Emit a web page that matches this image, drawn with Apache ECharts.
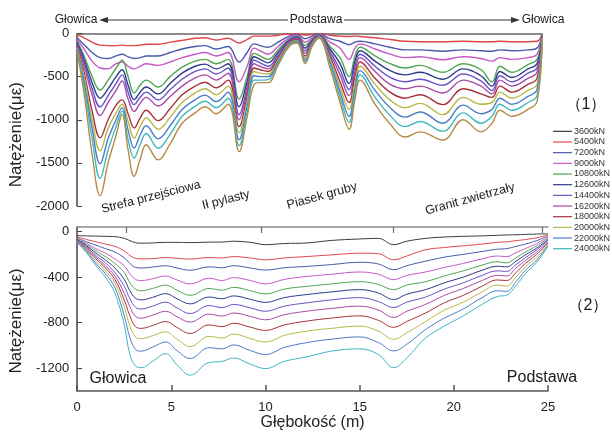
<!DOCTYPE html>
<html><head><meta charset="utf-8">
<script src="https://cdn.jsdelivr.net/npm/echarts@6/dist/echarts.min.js"></script>
<style>html,body{margin:0;padding:0;background:#fff}#c{width:612px;height:432px}</style>
</head><body><div id="c"></div>
<script>
// ---- categories ----
const loads = ['3600kN','5400kN','7200kN','9000kN','10800kN','12600kN','14400kN','16200kN','18000kN','20000kN','22000kN','24000kN'];

// ---- panel (1): position along the loop, head -> base (25) -> head (50) ----
const loopPos = [0,0.75,1.61,2.47,3.33,4.19,4.84,5.48,6.13,6.77,7.42,8.71,10.0,11.29,12.69,13.76,14.95,16.24,17.42,18.28,19.03,19.68,20.54,21.61,22.8,23.66,24.52,25.27,26.02,27.2,28.28,29.25,29.89,30.43,32.04,33.66,35.27,36.88,39.35,41.51,43.44,44.62,45.48,46.77,48.49,49.46,50];
const top3600 = [-15,-50,-100,-135,-140,-140,-135,-140,-140,-135,-125,-125,-100,-80,-55,-50,-75,-55,-110,-70,-30,-30,-30,-20,-5,0,-20,-10,0,-20,-30,-35,-30,-35,-50,-70,-90,-95,-95,-90,-95,-95,-90,-95,-95,-90,-5];
const top5400 = [-50,-130,-220,-280,-290,-260,-240,-270,-290,-280,-260,-260,-220,-180,-150,-140,-180,-150,-330,-220,-120,-140,-160,-100,-30,-10,-60,-30,-5,-60,-90,-130,-100,-90,-120,-160,-190,-190,-205,-190,-200,-205,-190,-200,-190,-170,-10];
const top7200 = [-70,-180,-320,-400,-410,-350,-330,-380,-410,-380,-350,-370,-330,-280,-240,-220,-260,-220,-560,-380,-170,-200,-240,-150,-50,-20,-100,-50,-10,-100,-170,-300,-170,-120,-180,-240,-280,-270,-305,-270,-290,-320,-280,-300,-280,-240,-15];
const top9000 = [-90,-260,-500,-655,-540,-400,-310,-500,-690,-600,-540,-620,-500,-390,-320,-300,-350,-300,-760,-500,-230,-260,-300,-190,-70,-30,-140,-70,-15,-150,-280,-500,-260,-160,-260,-350,-400,-370,-450,-350,-420,-560,-380,-450,-360,-300,-20];
const top10800 = [-105,-300,-570,-750,-640,-500,-420,-600,-767,-680,-620,-700,-580,-460,-380,-355,-410,-350,-850,-560,-270,-300,-340,-220,-80,-40,-170,-80,-20,-180,-350,-580,-320,-200,-320,-430,-480,-450,-530,-410,-490,-610,-440,-510,-410,-350,-25];
const top12600 = [-120,-340,-640,-850,-720,-580,-480,-680,-825,-740,-680,-770,-650,-530,-440,-410,-470,-400,-940,-620,-310,-340,-380,-250,-90,-50,-200,-90,-25,-210,-420,-650,-380,-240,-380,-510,-560,-530,-600,-470,-550,-660,-490,-560,-460,-400,-30];
const top14400 = [-135,-380,-710,-950,-800,-660,-550,-760,-903,-810,-740,-840,-730,-610,-515,-480,-540,-460,-1000,-670,-350,-380,-410,-270,-100,-60,-230,-100,-30,-240,-480,-720,-440,-280,-440,-590,-640,-610,-690,-540,-610,-700,-540,-610,-520,-450,-35];
const top16200 = [-150,-450,-900,-1210,-1000,-830,-770,-930,-1096,-980,-890,-1010,-870,-710,-610,-565,-630,-540,-1080,-730,-400,-420,-440,-290,-110,-70,-260,-110,-35,-270,-560,-800,-500,-330,-520,-680,-750,-710,-825,-640,-700,-740,-610,-680,-590,-520,-40];
const top18000 = [-165,-500,-1000,-1360,-1100,-920,-820,-1020,-1212,-1080,-980,-1110,-970,-800,-690,-640,-710,-610,-1150,-790,-440,-460,-470,-310,-120,-80,-290,-120,-40,-300,-620,-880,-570,-380,-590,-770,-860,-810,-940,-740,-820,-800,-680,-750,-660,-590,-45];
const top20000 = [-180,-560,-1100,-1510,-1220,-1000,-860,-1120,-1328,-1180,-1070,-1220,-1070,-880,-770,-715,-790,-680,-1230,-850,-490,-500,-500,-330,-130,-90,-310,-130,-45,-330,-680,-960,-640,-430,-660,-860,-970,-910,-1040,-830,-930,-880,-750,-820,-730,-650,-50];
const top22000 = [-195,-620,-1220,-1680,-1350,-1080,-900,-1230,-1444,-1290,-1160,-1330,-1170,-960,-845,-785,-860,-750,-1300,-910,-540,-540,-535,-350,-140,-100,-330,-140,-50,-360,-740,-1030,-700,-480,-740,-950,-1080,-1020,-1135,-920,-1040,-960,-820,-890,-800,-720,-55];
const top24000 = [-210,-700,-1400,-1880,-1500,-1180,-940,-1350,-1656,-1460,-1290,-1465,-1280,-1040,-920,-850,-930,-820,-1370,-970,-590,-570,-570,-370,-150,-110,-350,-150,-55,-400,-800,-1110,-760,-540,-820,-1050,-1200,-1140,-1235,-1000,-1140,-1040,-890,-960,-880,-790,-60];

// ---- panel (2): depth (m) ----
const depth = [0,0.5,1,1.5,2,2.5,2.8,3.1,3.4,4,4.7,5.3,6,7,7.7,8.3,9.2,10,11,12.2,13.5,15,16,16.8,17.5,18.5,19.5,20.5,21.5,22.3,22.8,23.3,23.8,24.4,25];
const bot3600 = [-35,-38,-40,-42,-45,-60,-80,-98,-102,-100,-95,-95,-97,-93,-92,-85,-95,-115,-105,-100,-78,-65,-60,-115,-85,-60,-48,-42,-38,-33,-30,-28,-25,-22,-20];
const bot5400 = [-45,-70,-90,-110,-130,-170,-210,-235,-240,-238,-228,-235,-242,-228,-232,-220,-232,-248,-232,-219,-205,-190,-195,-248,-215,-160,-140,-125,-110,-95,-90,-80,-70,-55,-30];
const bot7200 = [-55,-90,-120,-150,-180,-230,-280,-315,-320,-312,-300,-320,-340,-310,-318,-300,-320,-338,-318,-306,-290,-270,-285,-335,-300,-260,-225,-200,-175,-155,-150,-130,-110,-80,-40];
const bot9000 = [-60,-105,-150,-190,-240,-300,-370,-420,-430,-415,-390,-425,-460,-410,-430,-405,-430,-460,-420,-394,-375,-355,-375,-422,-385,-355,-315,-280,-240,-215,-220,-185,-150,-105,-50];
const bot10800 = [-65,-115,-170,-220,-280,-360,-450,-505,-520,-500,-470,-515,-560,-500,-515,-490,-520,-548,-505,-481,-460,-440,-465,-510,-470,-440,-390,-345,-295,-265,-275,-230,-180,-125,-60];
const bot12600 = [-70,-125,-190,-250,-320,-420,-520,-585,-600,-578,-545,-590,-635,-575,-590,-565,-595,-622,-580,-553,-530,-510,-540,-597,-550,-510,-450,-400,-340,-305,-310,-260,-205,-145,-70];
const bot14400 = [-75,-135,-210,-275,-360,-480,-590,-665,-680,-655,-620,-670,-720,-650,-668,-640,-670,-700,-655,-626,-600,-580,-615,-667,-620,-575,-505,-450,-385,-345,-350,-290,-230,-160,-80];
const bot16200 = [-80,-145,-225,-300,-390,-540,-660,-745,-760,-735,-700,-748,-795,-725,-742,-715,-745,-775,-730,-699,-675,-655,-690,-754,-700,-640,-560,-500,-430,-385,-390,-320,-255,-180,-90];
const bot18000 = [-85,-155,-240,-320,-420,-600,-740,-835,-850,-825,-790,-842,-895,-820,-835,-805,-840,-868,-820,-786,-760,-740,-780,-841,-790,-715,-625,-560,-480,-425,-430,-360,-280,-200,-100];
const bot20000 = [-90,-165,-260,-345,-450,-660,-830,-925,-940,-915,-880,-945,-1010,-920,-935,-900,-940,-970,-912,-874,-850,-830,-875,-946,-890,-790,-690,-620,-530,-470,-480,-400,-310,-225,-110];
const bot22000 = [-95,-175,-280,-370,-490,-740,-930,-1035,-1050,-1015,-970,-1045,-1115,-1020,-1030,-995,-1045,-1080,-1018,-975,-945,-925,-975,-1048,-990,-860,-760,-680,-580,-520,-525,-440,-340,-250,-120];
const bot24000 = [-100,-185,-300,-400,-540,-820,-1080,-1180,-1195,-1140,-1072,-1170,-1261,-1150,-1140,-1110,-1165,-1203,-1140,-1100,-1050,-1030,-1080,-1195,-1110,-935,-830,-740,-640,-570,-560,-475,-370,-270,-130];

// ---- tick values ----
const topTicks = [0,-500,-1000,-1500,-2000];
const botTicks = [0,-400,-800,-1200];
const layerBounds = [2.6,9.8,16.8,24.7];

// ---- styles ----
const botColors = ['#3a3a3a','#e0474c','#4a5aa8','#c65ac6','#4fa64f','#2e3a8c','#6a52c8','#a84aa8','#a8323c','#b8b84a','#4a7cc8','#3fb4c4'];
const topColors = ['#e0474c','#4a5aa8','#c65ac6','#4fa64f','#2e3a8c','#6a52c8','#a84aa8','#a8323c','#b8b84a','#4a7cc8','#3fb8c0','#b58b45'];
const FONT = '"Liberation Sans", Arial, sans-serif';

const topData = [top3600,top5400,top7200,top9000,top10800,top12600,top14400,top16200,top18000,top20000,top22000,top24000];
const botData = [bot3600,bot5400,bot7200,bot9000,bot10800,bot12600,bot14400,bot16200,bot18000,bot20000,bot22000,bot24000];
const pair = (xs, ys) => xs.map((x, i) => [x, ys[i]]);

const series = [];
loads.forEach((n, i) => series.push({
  type: 'line', name: n, xAxisIndex: 1, yAxisIndex: 1, data: pair(depth, botData[i]),
  smooth: 0.4, symbol: 'none', showSymbol: false,
  lineStyle: { width: 1, color: botColors[i] }, itemStyle: { color: botColors[i] }
}));
loads.forEach((n, i) => series.push({
  type: 'line', name: n, xAxisIndex: 0, yAxisIndex: 0, data: pair(loopPos, topData[i]),
  smooth: 0.4, symbol: 'none', showSymbol: false,
  lineStyle: { width: 1.4, color: topColors[i] }, itemStyle: { color: topColors[i] }
}));

const txt = (x, y, text, size, extra) => Object.assign({
  type: 'text', x: x, y: y, z: 10,
  style: { text: text, font: size + 'px ' + FONT, fill: '#1a1a1a', align: 'center', verticalAlign: 'middle', textAlign: 'center', textVerticalAlign: 'middle' }
}, extra || {});
const plain = v => String(v);

const chart = echarts.init(document.getElementById('c'), null, { renderer: 'canvas' });
chart.setOption({
  animation: false,
  backgroundColor: '#fff',
  textStyle: { fontFamily: FONT },
  grid: [
    { left: 77, top: 33.5, width: 465, height: 172.5 },
    { left: 77, top: 227, width: 471, height: 165 }
  ],
  xAxis: [
    { gridIndex: 0, type: 'value', min: 0, max: 50, position: 'top',
      axisLine: { show: true, onZero: false, lineStyle: { color: '#8c8c8c', width: 2 } },
      axisTick: { show: false }, axisLabel: { show: false }, splitLine: { show: false } },
    { gridIndex: 1, type: 'value', min: 0, max: 25, interval: 5, position: 'bottom',
      axisLine: { show: true, onZero: false, lineStyle: { color: '#555', width: 1.5 } },
      axisTick: { show: true, inside: true, length: 6, lineStyle: { color: '#555', width: 1.5 } },
      axisLabel: { fontSize: 13, color: '#222', margin: 10, formatter: plain },
      splitLine: { show: false },
      name: 'Głębokość (m)', nameLocation: 'middle', nameGap: 24,
      nameTextStyle: { fontSize: 16, color: '#222' } },
    { gridIndex: 1, type: 'value', min: 0, max: 25, position: 'top',
      axisLine: { show: true, onZero: false, lineStyle: { color: '#8c8c8c', width: 1.5 } },
      axisTick: { show: true, inside: true, length: 6, customValues: layerBounds, lineStyle: { color: '#666', width: 1.2 } },
      axisLabel: { show: false }, splitLine: { show: false } }
  ],
  yAxis: [
    { gridIndex: 0, type: 'value', min: -2000, max: 0, interval: 500,
      axisLine: { show: true, onZero: false, lineStyle: { color: '#444', width: 1.5 } },
      axisTick: { show: true, inside: true, length: 5, customValues: topTicks, lineStyle: { color: '#444' } },
      axisLabel: { fontSize: 13, color: '#222', margin: 8, customValues: topTicks, formatter: plain },
      splitLine: { show: false },
      name: 'Natężenie(με)', nameLocation: 'middle', nameGap: 45,
      nameTextStyle: { fontSize: 17, color: '#222', padding: [0, 30, 0, 0] } },
    { gridIndex: 1, type: 'value', min: -1400, max: 40,
      axisLine: { show: true, onZero: false, lineStyle: { color: '#444', width: 1.5 } },
      axisTick: { show: true, inside: true, length: 5, customValues: botTicks, lineStyle: { color: '#444' } },
      axisLabel: { fontSize: 13, color: '#222', margin: 8, customValues: botTicks, formatter: plain },
      splitLine: { show: false },
      name: 'Natężenie(με)', nameLocation: 'middle', nameGap: 45,
      nameTextStyle: { fontSize: 17, color: '#222', padding: [0, 24, 0, 0] } }
  ],
  legend: {
    data: loads, orient: 'vertical', left: 553, top: 126, padding: 0,
    itemGap: 0, itemWidth: 19, itemHeight: 1.2, icon: 'rect',
    textStyle: { fontSize: 9, lineHeight: 10.67, color: '#333', padding: [0, 0, 0, -3] },
    selectedMode: false
  },
  graphic: [
    txt(76, 20, 'Głowica', 12),
    txt(316, 20, 'Podstawa', 12),
    txt(543, 20, 'Głowica', 12),
    { type: 'line', shape: { x1: 104, y1: 20, x2: 288, y2: 20 }, style: { stroke: '#333', lineWidth: 1 } },
    { type: 'polygon', shape: { points: [[99, 20], [108, 17], [108, 23]] }, style: { fill: '#333' } },
    { type: 'line', shape: { x1: 344, y1: 20, x2: 514, y2: 20 }, style: { stroke: '#333', lineWidth: 1 } },
    { type: 'polygon', shape: { points: [[520, 20], [511, 17], [511, 23]] }, style: { fill: '#333' } },
    txt(586, 105, '（1）', 16, {}),
    txt(588, 306, '（2）', 16, {}),
    txt(118, 379, 'Głowica', 16),
    txt(542, 378, 'Podstawa', 16),
    txt(151, 197, 'Strefa przejściowa', 12.5, { rotation: 0.25 }),
    txt(226, 200, 'Ił pylasty', 12.5, { rotation: 0.25 }),
    txt(322, 196, 'Piasek gruby', 12.5, { rotation: 0.27 }),
    txt(470, 199, 'Granit zwietrzały', 12.5, { rotation: 0.27 })
  ],
  series: series
});
</script>
</body></html>
